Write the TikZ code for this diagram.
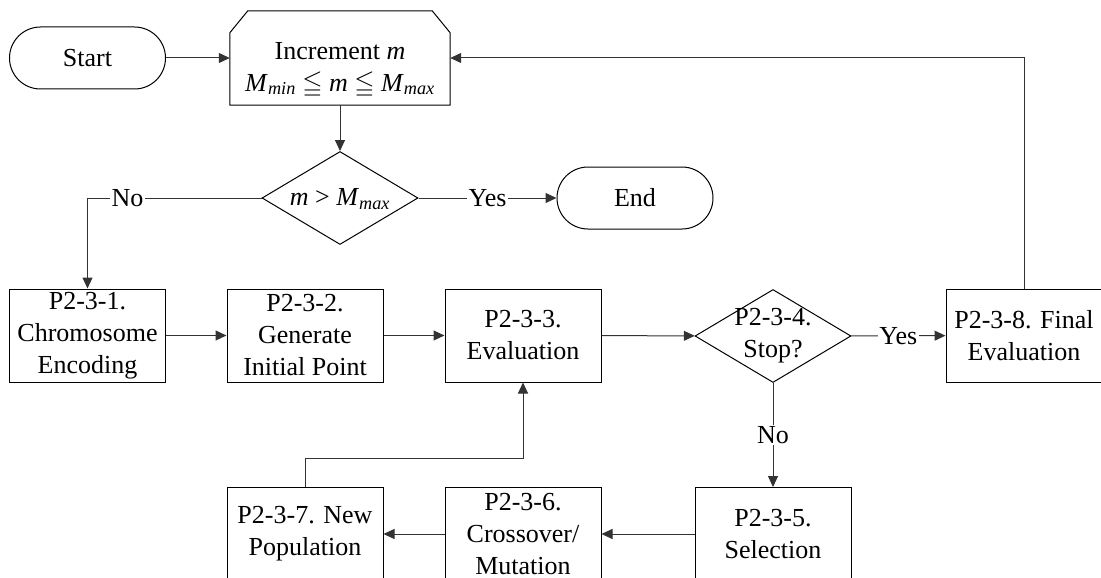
\documentclass[tikz,border=0pt]{standalone}
\usepackage{fontspec}
\setmainfont{Liberation Serif}
\usepackage{amssymb}
\usetikzlibrary{arrows.meta,shapes.geometric}
\begin{document}
\begin{tikzpicture}[x=1pt,y=-1pt,
  font=\fontsize{26}{32}\selectfont,
  box/.style={draw=black,line width=1pt,minimum width=156pt,minimum height=93pt,inner sep=0pt,align=center},
  term/.style={draw=black,line width=1pt,minimum width=156pt,minimum height=62pt,rounded corners=31pt,inner sep=0pt},
  dia/.style={draw=black,line width=1pt,diamond,minimum width=156pt,minimum height=93pt,inner sep=0pt},
  txt/.style={align=center,inner sep=0pt},
  arr/.style={draw=black!80,line width=1pt,-{Triangle[length=11pt,width=10pt]}},
  lbl/.style={fill=white,inner sep=1.5pt}]
\useasboundingbox (0,0) rectangle (1101,578);
% top row
\node[term] (start) at (87.5,58) {Start};
\node[minimum width=220pt,minimum height=94pt,inner sep=0pt] (inc) at (340,58) {};
\draw[line width=1pt] (inc.south west) -- ([yshift=-22pt]inc.north west) -- ([xshift=18pt]inc.north west)
  -- ([xshift=-18pt]inc.north east) -- ([yshift=-22pt]inc.north east) -- (inc.south east) -- cycle;
\node[txt] (inct) at (340,70) {Increment \textit{m}\\\textit{M}\textsubscript{\textit{min}} $\leqq$ \textit{m} $\leqq$ \textit{M}\textsubscript{\textit{max}}};
% decision 1
\node[dia] (d1) at (340,198) {};
\node[txt] (d1t) at (340,199) {\textit{m} > \textit{M}\textsubscript{\textit{max}}};
\node[term] (end) at (635,198) {End};
% middle row
\node[box] (p1) at (87.5,335.5) {P2-3-1.\\Chromosome\\Encoding};
\node[box] (p2) at (305,335.5) {P2-3-2.\\Generate\\Initial Point};
\node[box] (p3) at (523,335.5) {P2-3-3.\\Evaluation};
\node[dia] (d2) at (773,336) {};
\node[txt] (d2t) at (773,336) {P2-3-4.\\Stop?};
\node[box] (p8) at (1024,335.5) {P2-3-8. Final\\Evaluation};
% bottom row
\node[box] (p5) at (773,534) {P2-3-5.\\Selection};
\node[box] (p6) at (523,534) {P2-3-6.\\Crossover/\\Mutation};
\node[box] (p7) at (305,534) {P2-3-7. New\\Population};
\coordinate (mid) at (0,458);
% connectors
\draw[arr] (start) -- (inc.west);
\draw[arr] (inc.south) -- (d1.north);
\draw[arr] (d1.west) -- node[lbl,pos=0.77]{No} (d1.west -| p1.north) -- (p1.north);
\draw[arr] (d1.east) -- node[lbl]{Yes} (end.west);
\draw[arr] (p1) -- (p2);
\draw[arr] (p2) -- (p3);
\draw[arr] (p3) -- (d2);
\draw[arr] (d2) -- node[lbl]{Yes} (p8);
\draw[arr] (d2) -- node[lbl]{No} (p5);
\draw[arr] (p5) -- (p6);
\draw[arr] (p6) -- (p7);
\draw[arr] (p7.north) -- (p7.north |- mid) -| (p3.south);
\draw[arr] (p8.north) |- (inc.east);
\end{tikzpicture}
\end{document}
